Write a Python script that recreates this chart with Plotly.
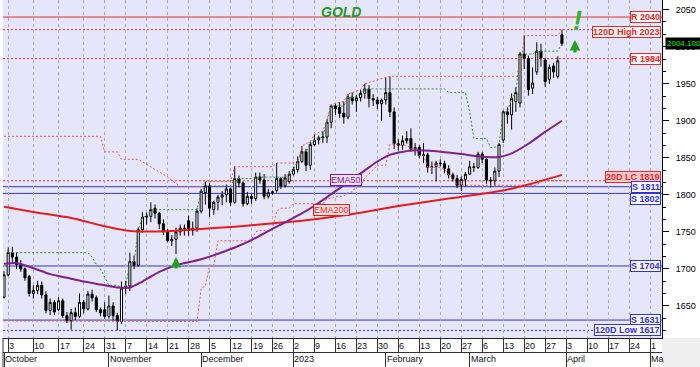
import plotly.graph_objects as go
import pandas as pd

# ---------------- sessions (four Sunday sessions in October) ----------------
sunday_sessions = ["2022-10-02", "2022-10-09", "2022-10-16", "2022-10-23"]
weekday_sessions = pd.bdate_range("2022-10-03", "2023-05-05").strftime("%Y-%m-%d").tolist()
sessions = sorted(weekday_sessions + sunday_sessions)
session_no = {d: i for i, d in enumerate(sessions)}

# ---------------- daily OHLC ----------------
opens = [1662, 1692, 1722, 1716, 1706, 1700, 1690, 1667, 1671, 1678, 1665, 1644, 1655, 1645, 1657, 1637,
         1630, 1641, 1636, 1655, 1646, 1666, 1661, 1645, 1645, 1636, 1650, 1637, 1629, 1674, 1677, 1710,
         1705, 1753, 1770, 1771, 1782, 1775, 1761, 1751, 1738, 1740, 1750, 1755, 1765, 1752, 1755, 1778,
         1803, 1812, 1780, 1790, 1797, 1800, 1808, 1790, 1822, 1816, 1788, 1798, 1795, 1824, 1820, 1798,
         1803, 1806, 1822, 1812, 1818, 1828, 1834, 1845, 1858, 1840, 1868, 1874, 1877, 1878, 1898, 1920,
         1918, 1910, 1905, 1932, 1927, 1931, 1937, 1943, 1930, 1928, 1923, 1928, 1938, 1912, 1869, 1867,
         1873, 1876, 1862, 1864, 1853, 1854, 1837, 1838, 1843, 1842, 1835, 1827, 1822, 1813, 1821, 1828,
         1838, 1837, 1855, 1848, 1820, 1819, 1832, 1874, 1912, 1908, 1926, 1924, 1990, 1984, 1944, 1966,
         1994, 1982, 1956, 1974, 1960, 2016]
highs = [1697, 1729, 1730, 1722, 1712, 1702, 1692, 1678, 1684, 1683, 1670, 1660, 1658, 1662, 1660, 1642,
         1646, 1648, 1667, 1658, 1670, 1672, 1664, 1648, 1655, 1664, 1655, 1641, 1683, 1684, 1722, 1718,
         1756, 1777, 1776, 1790, 1787, 1777, 1767, 1754, 1746, 1756, 1760, 1760, 1772, 1764, 1782, 1808,
         1818, 1816, 1792, 1800, 1805, 1814, 1810, 1838, 1826, 1818, 1804, 1802, 1830, 1830, 1828, 1808,
         1806, 1843, 1824, 1828, 1832, 1838, 1852, 1866, 1862, 1872, 1882, 1880, 1886, 1902, 1922, 1923,
         1925, 1926, 1936, 1938, 1935, 1942, 1950, 1948, 1936, 1932, 1930, 1958, 1960, 1918, 1875, 1880,
         1886, 1890, 1870, 1867, 1870, 1857, 1845, 1846, 1848, 1846, 1840, 1830, 1827, 1825, 1831, 1846,
         1843, 1858, 1858, 1851, 1824, 1837, 1870, 1914, 1918, 1937, 1945, 1993, 2015, 1988, 1972, 2006,
         2004, 1985, 1976, 1978, 1987, 2023]
lows = [1660, 1690, 1707, 1700, 1696, 1684, 1663, 1660, 1666, 1660, 1640, 1638, 1638, 1643, 1634, 1627,
        1618, 1631, 1634, 1640, 1644, 1656, 1642, 1636, 1633, 1633, 1630, 1617, 1626, 1666, 1670, 1700,
        1703, 1749, 1760, 1763, 1768, 1754, 1746, 1736, 1731, 1720, 1745, 1745, 1745, 1745, 1750, 1775,
        1787, 1770, 1773, 1779, 1786, 1790, 1785, 1788, 1810, 1784, 1786, 1788, 1792, 1815, 1794, 1795,
        1800, 1803, 1808, 1810, 1815, 1826, 1830, 1843, 1832, 1834, 1866, 1868, 1870, 1870, 1890, 1908,
        1904, 1896, 1902, 1922, 1912, 1926, 1930, 1918, 1920, 1916, 1900, 1922, 1905, 1862, 1860, 1861,
        1869, 1858, 1853, 1850, 1843, 1830, 1828, 1818, 1838, 1829, 1822, 1818, 1809, 1805, 1811, 1827,
        1831, 1835, 1843, 1815, 1810, 1812, 1824, 1870, 1896, 1888, 1912, 1918, 1970, 1934, 1936, 1962,
        1973, 1946, 1950, 1958, 1957, 2001]
closes = [1692, 1722, 1716, 1706, 1700, 1688, 1667, 1671, 1678, 1665, 1644, 1655, 1642, 1657, 1637, 1630,
          1641, 1636, 1655, 1646, 1666, 1661, 1645, 1641, 1636, 1650, 1637, 1629, 1674, 1677, 1710, 1705,
          1753, 1770, 1771, 1780, 1775, 1761, 1751, 1738, 1740, 1750, 1755, 1754, 1752, 1755, 1778, 1805,
          1812, 1782, 1790, 1797, 1800, 1808, 1790, 1822, 1816, 1788, 1798, 1795, 1824, 1820, 1798, 1803,
          1804, 1822, 1812, 1823, 1828, 1834, 1845, 1858, 1840, 1868, 1874, 1877, 1878, 1898, 1920, 1916,
          1910, 1905, 1932, 1927, 1931, 1937, 1943, 1930, 1928, 1923, 1928, 1938, 1912, 1869, 1867, 1873,
          1876, 1862, 1864, 1853, 1854, 1837, 1838, 1843, 1842, 1835, 1827, 1822, 1813, 1821, 1828, 1838,
          1837, 1855, 1848, 1820, 1819, 1832, 1868, 1912, 1908, 1930, 1938, 1990, 1984, 1942, 1951, 1994,
          1985, 1953, 1972, 1966, 1981, 2004.1]
bar_dates = sessions[:len(closes)]

# ---------------- indicators (session number, value) ----------------
ema50_bar = [0, 3, 7, 11, 15, 19, 23, 27, 30, 33, 37, 41, 47, 55, 59, 63, 67, 71, 75, 78, 81, 86, 89, 92,
             97, 103, 109, 115, 118, 121, 125, 129, 133]
ema50_val = [1707, 1708, 1701, 1693, 1688, 1683, 1679, 1675, 1675, 1683, 1696, 1705, 1713, 1729, 1739,
             1751, 1763, 1775, 1789, 1801, 1813, 1833, 1845, 1854, 1860, 1859, 1855, 1851, 1851, 1856,
             1869, 1885, 1900]
ema200_bar = [0, 7, 15, 23, 27, 31, 39, 47, 55, 63, 71, 78, 85, 94, 106, 119, 125, 133]
ema200_val = [1784, 1777, 1770, 1759, 1754, 1751, 1751, 1754, 1757, 1761, 1765, 1770, 1776, 1785, 1795,
              1806, 1814, 1827]
hc20_bar = [1, 20, 21, 22, 23, 24, 25, 27, 28, 29, 30, 31, 32, 33, 34, 35, 46, 47, 48, 54, 55, 59, 60, 67,
            68, 69, 70, 71, 72, 73, 74, 75, 76, 77, 78, 81, 82, 84, 85, 86, 105, 106, 110, 111, 112, 115,
            116, 117, 118, 119, 120, 121, 122, 123, 126, 127, 132, 133]
hc20_val = [1722, 1722, 1716, 1706, 1700, 1688, 1678, 1678, 1674, 1677, 1710, 1710, 1753, 1770, 1771,
            1780, 1780, 1805, 1812, 1812, 1822, 1822, 1824, 1824, 1828, 1834, 1845, 1858, 1858, 1868,
            1874, 1877, 1878, 1898, 1920, 1920, 1932, 1932, 1937, 1943, 1943, 1938, 1938, 1912, 1876,
            1876, 1864, 1864, 1868, 1912, 1912, 1930, 1938, 1990, 1990, 1994, 1994, 2004.1]
lc20_bar = [0, 26, 27, 46, 47, 48, 49, 50, 51, 58, 59, 60, 61, 63, 64, 65, 66, 68, 69, 76, 77, 78, 79, 81,
            82, 83, 84, 85, 86, 87, 88, 89, 91, 92, 93, 94, 96, 97, 98, 99, 100, 101, 104, 105, 106, 107,
            108, 127, 128, 133]
lc20_val = [1630, 1630, 1629, 1629, 1674, 1677, 1705, 1705, 1738, 1738, 1740, 1750, 1752, 1752, 1755,
            1778, 1782, 1782, 1788, 1788, 1795, 1795, 1798, 1798, 1803, 1804, 1812, 1812, 1823, 1828,
            1834, 1840, 1840, 1868, 1869, 1867, 1867, 1862, 1862, 1853, 1853, 1837, 1837, 1835, 1827,
            1822, 1813, 1813, 1819, 1819]
hh120_bar = [0, 23, 24, 27, 28, 32, 39, 42, 47, 48, 54, 55, 64, 65, 70, 71, 73, 74, 76, 77, 78, 80, 81, 82,
             83, 85, 86, 91, 92, 123, 124, 132, 133]
hh120_val = [1879, 1879, 1858, 1858, 1848, 1848, 1824, 1811, 1811, 1818, 1818, 1838, 1838, 1843, 1843,
             1866, 1872, 1882, 1886, 1902, 1922, 1925, 1926, 1936, 1938, 1942, 1950, 1958, 1960, 1960,
             2015, 2015, 2023]

# ---------------- horizontal levels ----------------
level_names = ["R 2040", "120D High 2023", "R 1984", "20D LC 1819", "S 1811", "S 1802", "S 1704",
               "S 1631", "120D Low 1617"]
level_values = [2040, 2023, 1984, 1819, 1811, 1802, 1704, 1631, 1617]
level_kinds = ["R", "Rd", "Rd", "LC", "S", "S", "S", "S", "Sd"]
level_label_shift = [0, -2, 0, 4, 0, -6, 0, 0, 0]

last_price = 2004.1
month_names = ["October", "November", "December", "2023", "February", "March", "April", "Ma"]
month_starts = ["2022-10-02", "2022-11-01", "2022-12-01", "2023-01-02", "2023-02-01", "2023-03-01",
                "2023-04-03", "2023-05-01"]
mondays = pd.date_range("2022-10-03", "2023-05-01", freq="W-MON")
week_labels = [str(d.day) for d in mondays]
week_slots = [session_no[d.strftime("%Y-%m-%d")] for d in mondays]
month_slots = [session_no[d] for d in month_starts]

# ---------------- figure ----------------
RED = "#e22b2b"
BLUE = "#3434d4"
GREEN = "#2e8f2e"
PURPLE = "#80208c"
FONT = "Liberation Sans, Arial, sans-serif"
xr = [-0.24, 156.85]

bar_x = [session_no[d] for d in bar_dates]
fig = go.Figure()
fig.add_trace(go.Candlestick(
    x=bar_x, open=opens, high=highs, low=lows, close=closes,
    increasing=dict(fillcolor="white", line=dict(color="black", width=1)),
    decreasing=dict(fillcolor="black", line=dict(color="black", width=1)),
    whiskerwidth=0, hoverinfo="skip", showlegend=False))

dot = "2px,2px"
fig.add_trace(go.Scatter(x=hh120_bar, y=hh120_val, mode="lines",
                         line=dict(color="#e85a5a", width=1, dash=dot), hoverinfo="skip"))
fig.add_trace(go.Scatter(x=lc20_bar, y=lc20_val, mode="lines",
                         line=dict(color="#e85a5a", width=1, dash=dot), hoverinfo="skip"))
fig.add_trace(go.Scatter(x=hc20_bar, y=hc20_val, mode="lines",
                         line=dict(color=GREEN, width=1, dash=dot), hoverinfo="skip"))
fig.add_trace(go.Scatter(x=ema200_bar, y=ema200_val, mode="lines",
                         line=dict(color="#e81c1c", width=2, shape="spline", smoothing=0.6), hoverinfo="skip"))
fig.add_trace(go.Scatter(x=ema50_bar, y=ema50_val, mode="lines",
                         line=dict(color=PURPLE, width=2, shape="spline", smoothing=0.6), hoverinfo="skip"))
# carrier for the month-separator axis
fig.add_trace(go.Scatter(x=month_slots, y=[1700] * len(month_slots), xaxis="x2", mode="markers",
                         marker=dict(opacity=0), hoverinfo="skip"))

shapes = []
annotations = []
for name, val, kind, ysh in zip(level_names, level_values, level_kinds, level_label_shift):
    col = RED if kind in ("R", "Rd", "LC") else BLUE
    dash = "solid" if kind in ("R", "S") else dot
    shapes.append(dict(type="line", xref="paper", x0=0, x1=1, yref="y", y0=val, y1=val,
                       line=dict(color=col, width=1, dash=dash), layer="between"))
    bg = "#ffc8c8" if kind == "LC" else ("#fff6f6" if col == RED else "#f6f6ff")
    annotations.append(dict(xref="paper", x=1, xanchor="right", xshift=-1, yref="y", y=val,
                            yanchor="middle", yshift=ysh, text="<b>%s</b>" % name, showarrow=False,
                            font=dict(family=FONT, size=9, color=col), bgcolor=bg,
                            bordercolor=col, borderwidth=1, borderpad=0))

# label area pieces
shapes.append(dict(type="rect", xref="paper", x0=1, x1=1.1, yref="paper", y0=0, y1=29 / 367,
                   fillcolor="#efefef", line=dict(width=0), layer="below"))
shapes.append(dict(type="line", xref="paper", x0=0, x1=0, yref="paper", y0=0, y1=29 / 367,
                   line=dict(color="#333", width=1)))

for lab, s in zip(week_labels, week_slots):
    annotations.append(dict(xref="x", x=s, xanchor="left", xshift=0, yref="paper", y=21 / 367,
                            yanchor="middle", text=lab, showarrow=False,
                            font=dict(family=FONT, size=9, color="#111"), borderpad=0))
for lab, s in zip(month_names, month_slots):
    annotations.append(dict(xref="x", x=s, xanchor="left", xshift=0, yref="paper", y=8 / 367,
                            yanchor="middle", text=lab, showarrow=False,
                            font=dict(family=FONT, size=9, color="#111"), borderpad=0))

# EMA labels
annotations.append(dict(xref="x", x=81.5, yref="y", y=1820, text="EMA50", showarrow=False,
                        font=dict(family=FONT, size=9, color=PURPLE), bgcolor="#f2e2f4",
                        bordercolor=PURPLE, borderwidth=1, borderpad=0))
annotations.append(dict(xref="x", x=78, yref="y", y=1780, text="EMA200", showarrow=False,
                        font=dict(family=FONT, size=9, color="#e81c1c"), bgcolor="#ffe2e2",
                        bordercolor="#e81c1c", borderwidth=1, borderpad=0))
# title
annotations.append(dict(xref="paper", x=0.513, yref="paper", y=(367 - 12) / 367, yanchor="middle",
                        text="<b><i>GOLD</i></b>", showarrow=False,
                        font=dict(family=FONT, size=14, color="#1f9a1f")))
# signal marks
annotations.append(dict(xref="x", x=41, yref="y", y=1716, text="", showarrow=True, ax=0, ay=13,
                        arrowcolor="#22a022", arrowwidth=3, arrowhead=2, arrowsize=0.7))
annotations.append(dict(xref="x", x=136.1, yref="y", y=2009, text="", showarrow=True, ax=0, ay=14,
                        arrowcolor="#22a022", arrowwidth=3, arrowhead=2, arrowsize=0.7))
annotations.append(dict(xref="x", x=136.8, yref="y", y=2035, text="<b><i>!</i></b>", showarrow=False,
                        font=dict(family=FONT, size=27, color="#2fb52f")))
# last price marker
annotations.append(dict(xref="paper", x=1, xanchor="left", xshift=3, yref="y", y=last_price,
                        yanchor="middle", text="%.3f" % last_price, showarrow=False,
                        font=dict(family=FONT, size=8, color="#00ff00"), bgcolor="black",
                        borderpad=1))

fig.update_layout(
    width=700, height=367, margin=dict(l=3, r=38, t=0, b=0, pad=0),
    paper_bgcolor="white", plot_bgcolor="#e6e6fa", showlegend=False,
    shapes=shapes, annotations=annotations,
    xaxis=dict(range=xr, tickmode="array", tickvals=week_slots, ticks="outside", ticklen=14,
               tickcolor="#333", tickwidth=1, showticklabels=False, showgrid=True,
               gridcolor="#a9a9c4", griddash="dot", gridwidth=1, showline=True, linecolor="#222",
               zeroline=False, rangeslider=dict(visible=False), fixedrange=True),
    xaxis2=dict(range=xr, overlaying="x", anchor="free", position=15 / 367, tickmode="array",
                tickvals=month_slots, ticks="outside", ticklen=14, tickcolor="#333", tickwidth=1,
                showticklabels=False, showgrid=False, showline=True, linecolor="#333",
                zeroline=False, fixedrange=True),
    yaxis=dict(domain=[29 / 367, 1], range=[1606.8, 2063], side="right", tickmode="array",
               tickvals=[1650, 1700, 1750, 1800, 1850, 1900, 1950, 2000, 2050], ticks="outside",
               ticklen=6, tickcolor="black", showline=True, linecolor="black", showgrid=False,
               zeroline=False, tickfont=dict(family=FONT, size=9, color="black"),
               ticklabelstandoff=5,
               minor=dict(tickmode="linear", tick0=1650, dtick=50 / 3, ticks="outside", ticklen=3,
                          tickcolor="black"),
               fixedrange=True),
)

fig.write_html("out.html")
